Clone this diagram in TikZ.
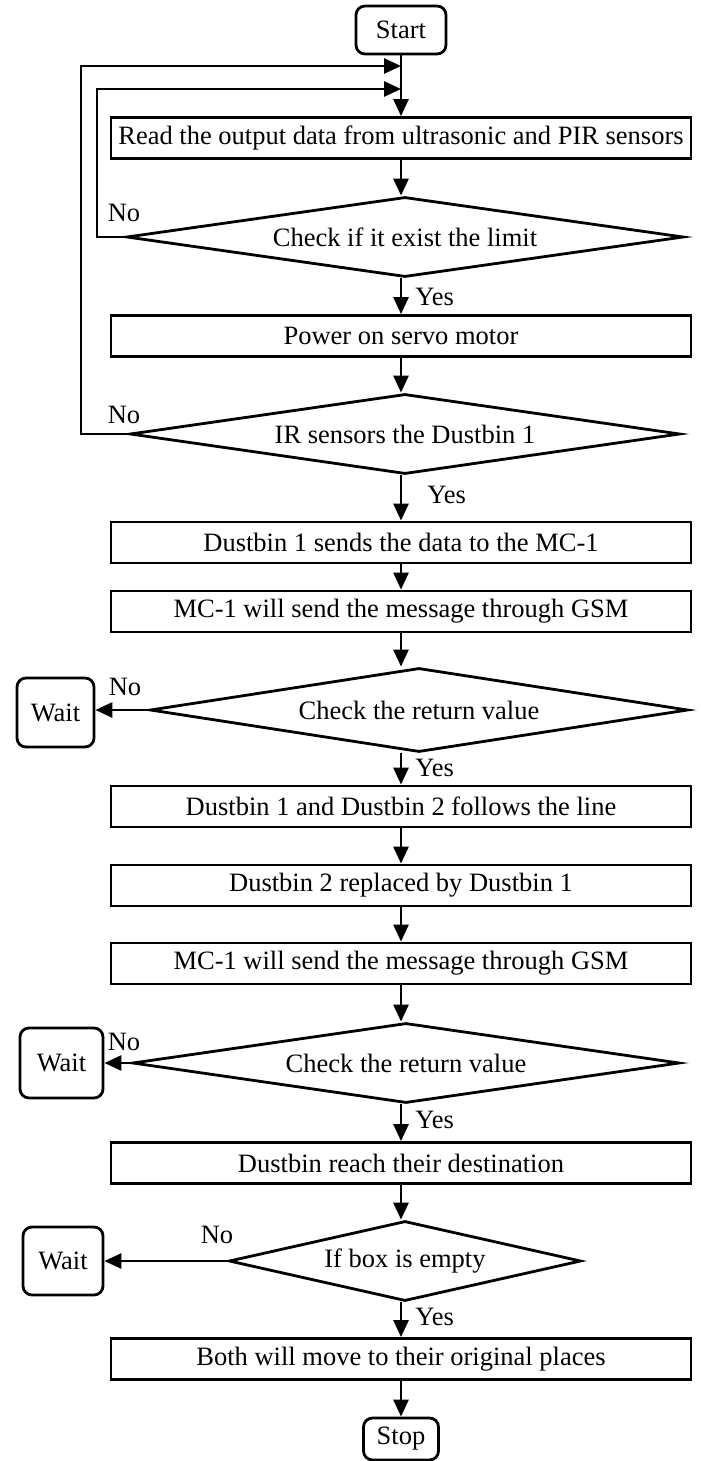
\documentclass[tikz,border=0pt]{standalone}
\usepackage{fontspec}
\setmainfont{Liberation Serif}
\usetikzlibrary{shapes.geometric,arrows.meta}
\begin{document}
\begin{tikzpicture}[x=1pt,y=-1pt,
  every node/.style={font=\fontsize{26.5}{30}\selectfont},
  line width=2.8pt,
  procbox/.style={draw, rectangle, minimum width=580pt, minimum height=41pt, inner sep=0pt},
  termbox/.style={draw, rectangle, rounded corners=9pt, inner sep=0pt},
  decision/.style={draw, diamond, inner sep=0pt, aspect=6},
  lbl/.style={inner sep=0pt},
  arr/.style={-{Triangle[length=17pt,width=15pt]}}
]
\useasboundingbox (0,0) rectangle (701,1461);

% terminals
\node[termbox, minimum width=90pt, minimum height=48pt] (start) at (401,30) {Start};
\node[termbox, minimum width=75pt, minimum height=42pt] (stop) at (401,1439) {Stop};

% process boxes
\node[procbox] (read) at (401,138) {Read the output data from ultrasonic and PIR sensors};
\node[procbox] (power) at (401,336) {Power on servo motor};
\node[procbox] (send1) at (401,542.5) {Dustbin 1 sends the data to the MC-1};
\node[procbox] (msg1) at (401,611.5) {MC-1 will send the message through GSM};
\node[procbox] (follow) at (401,806.5) {Dustbin 1 and Dustbin 2 follows the line};
\node[procbox] (replace) at (401,885.5) {Dustbin 2 replaced by Dustbin 1};
\node[procbox] (msg2) at (401,963.5) {MC-1 will send the message through GSM};
\node[procbox] (reach) at (401,1163) {Dustbin reach their destination};
\node[procbox] (back) at (401,1359) {Both will move to their original places};

% decisions
\node[decision, minimum width=557pt, minimum height=80pt] (d1) at (405,237) {Check if it exist the limit};
\node[decision, minimum width=550pt, minimum height=80pt] (d2) at (405,434) {IR sensors the Dustbin 1};
\node[decision, minimum width=538pt, minimum height=84pt] (d3) at (419,710) {Check the return value};
\node[decision, minimum width=547pt, minimum height=80pt] (d4) at (406,1063) {Check the return value};
\node[decision, minimum width=352pt, minimum height=80pt] (d5) at (405,1261) {If box is empty};

% wait boxes
\node[termbox, minimum width=77pt, minimum height=69pt] (wait1) at (55.5,712.5) {Wait};
\node[termbox, minimum width=83pt, minimum height=70pt] (wait2) at (61.5,1063) {Wait};
\node[termbox, minimum width=80pt, minimum height=68pt] (wait3) at (63,1261) {Wait};

% labels
\node[lbl] (no1) at (124,213) {No};
\node[lbl] (no2) at (124,415) {No};
\node[lbl] (no3) at (125,687) {No};
\node[lbl] (no4) at (124,1042) {No};
\node[lbl] (no5) at (217,1235) {No};
\node[lbl, anchor=west] (yes1) at (414,297) {Yes};
\node[lbl, anchor=west] (yes2) at (426,495) {Yes};
\node[lbl, anchor=west] (yes3) at (414,768) {Yes};
\node[lbl, anchor=west] (yes4) at (414,1120) {Yes};
\node[lbl, anchor=west] (yes5) at (414,1317) {Yes};

% junction coordinates for loops
\coordinate (j1) at (401,89);
\coordinate (j2) at (401,66);
\coordinate (inL) at (97,89);
\coordinate (outL) at (81,66);

% main flow
\draw[arr] (start) -- (read);
\draw[arr] (read.south) -- (read.south |- d1.north);
\draw[arr] (read.south |- d1.south) -- (power.north);
\draw[arr] (power.south) -- (power.south |- d2.north);
\draw[arr] (power.south |- d2.south) -- (send1.north);
\draw[arr] (send1) -- (msg1);
\draw[arr] (msg1.south) -- (msg1.south |- d3.north);
\draw[arr] (msg1.south |- d3.south) -- (follow.north);
\draw[arr] (follow) -- (replace);
\draw[arr] (replace) -- (msg2);
\draw[arr] (msg2.south) -- (msg2.south |- d4.north);
\draw[arr] (msg2.south |- d4.south) -- (reach.north);
\draw[arr] (reach.south) -- (reach.south |- d5.north);
\draw[arr] (reach.south |- d5.south) -- (back.north);
\draw[arr] (back) -- (stop);

% loops
\draw[arr] (d1.west) -| (inL) -- (j1);
\draw[arr] (d2.west) -| (outL) -- (j2);

% no branches to wait
\draw[arr] (d3.west) -- (d3.west -| wait1.east);
\draw[arr] (d4.west) -- (d4.west -| wait2.east);
\draw[arr] (d5.west) -- (d5.west -| wait3.east);
\end{tikzpicture}
\end{document}
